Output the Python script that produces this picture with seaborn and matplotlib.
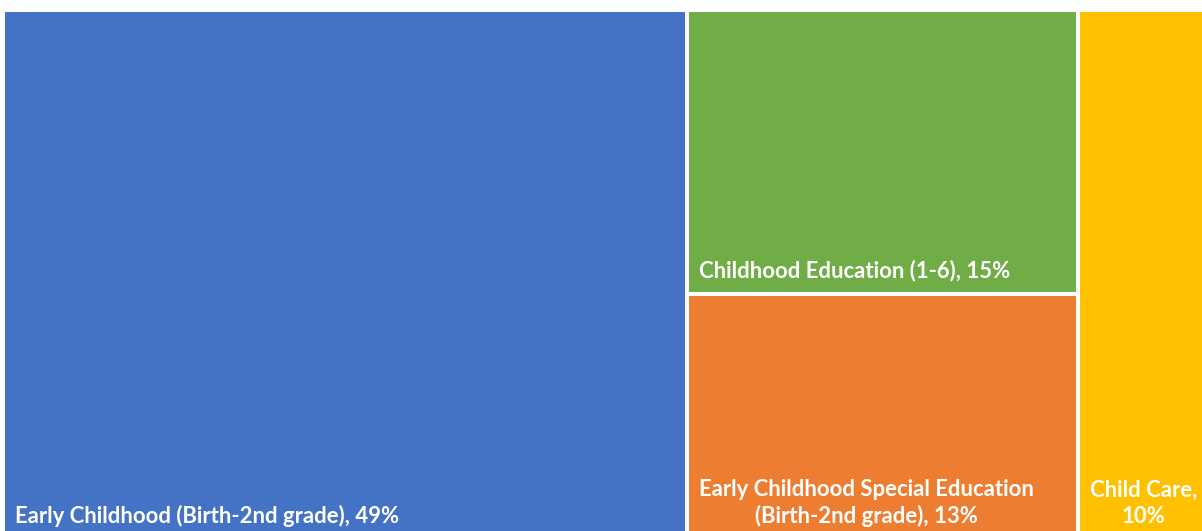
import matplotlib
matplotlib.use("Agg")
import matplotlib.pyplot as plt
from matplotlib.patches import Rectangle
import seaborn as sns

# Share of programs by area (percent of total)
categories = [
    "Early Childhood (Birth-2nd grade)",
    "Childhood Education (1-6)",
    "Early Childhood Special Education\n(Birth-2nd grade)",
    "Child Care,\n",
]
shares = [49, 15, 13, 10]
total_share = 100
# Treemap columns: indices of the categories stacked in each column
columns = [[0], [1, 2], [3]]
colors = ["#4472C4", "#70AD47", "#ED7D31", "#FFC000"]

sns.set_theme(style="white")
plt.rcParams["font.family"] = ["Lato", "DejaVu Sans"]

W_PX, H_PX, DPI = 1202, 531, 100
fig = plt.figure(figsize=(W_PX / DPI, H_PX / DPI), dpi=DPI)
fig.patch.set_facecolor("white")

# The plotting area runs past the right and bottom edges of the canvas
ax = fig.add_axes([3 / W_PX, -9 / H_PX, 1396 / W_PX, 530 / H_PX])
ax.set_xlim(0, total_share)
ax.set_ylim(0, 1)
ax.axis("off")

px = 72 / DPI  # points per pixel
x = 0.0
for col in columns:
    col_sum = sum(shares[i] for i in col)
    width = col_sum
    y_top = 1.0
    for i in col:
        h = shares[i] / col_sum
        y = y_top - h
        ax.add_patch(Rectangle((x, y), width, h, facecolor=colors[i],
                               edgecolor="white", linewidth=4 * px))
        name = categories[i]
        label = f"{name}{shares[i]}%" if name.endswith("\n") else f"{name}, {shares[i]}%"
        ax.annotate(label, xy=(x, y), xycoords="data",
                    xytext=(12 * px, 17 * px), textcoords="offset points",
                    ha="left", va="baseline", multialignment="center",
                    linespacing=1.3,
                    color="white", fontweight="bold", fontsize=15.9)
        y_top = y
    x += width

fig.savefig("out.png", dpi=DPI, facecolor="white")
